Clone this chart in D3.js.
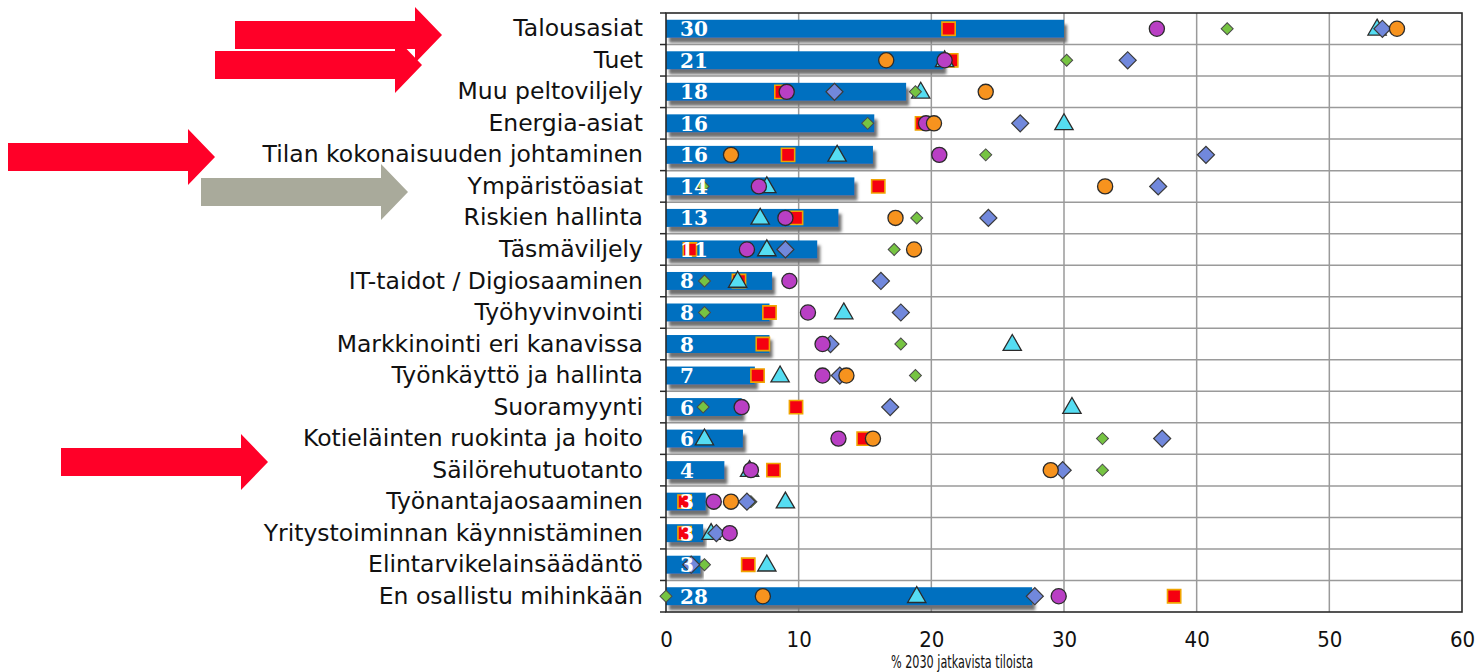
<!DOCTYPE html>
<html>
<head>
<meta charset="utf-8">
<style>
  body { margin: 0; background: #fff; }
  svg { display: block; }
</style>
</head>
<body>
<svg width="1482" height="672"></svg>

<script src="https://cdn.jsdelivr.net/npm/d3@7/dist/d3.min.js"></script>
<script>

// kategoriat ylhäältä alas
var categories = [
  "Talousasiat", "Tuet", "Muu peltoviljely", "Energia-asiat",
  "Tilan kokonaisuuden johtaminen", "Ympäristöasiat", "Riskien hallinta",
  "Täsmäviljely", "IT-taidot / Digiosaaminen", "Työhyvinvointi",
  "Markkinointi eri kanavissa", "Työnkäyttö ja hallinta", "Suoramyynti",
  "Kotieläinten ruokinta ja hoito", "Säilörehutuotanto", "Työnantajaosaaminen",
  "Yritystoiminnan käynnistäminen", "Elintarvikelainsäädäntö", "En osallistu mihinkään"
];

// palkit: koko aineisto
var barValues = [30, 20.9, 18.1, 15.7, 15.6, 14.2, 13.0, 11.4, 8.0, 7.8, 7.8, 6.7, 5.7, 5.8, 4.4, 3.0, 2.8, 2.6, 27.6];

// ryhmät (null = ei näy kuvassa)
var squareVals   = [21.3, 21.5, 8.7, 19.3, 9.2, 16.0, 9.8, 1.8, 5.5, 7.8, 7.3, 6.9, 9.8, 14.9, 8.1, 1.4, 1.4, 6.2, 38.3];
var triangleVals = [53.6, 21.0, 19.2, 30.0, 12.9, 7.6, 7.1, 7.6, 5.4, 13.4, 26.1, 8.6, 30.6, 2.9, 6.3, 9.0, 3.4, 7.6, 18.9];
var greenVals    = [42.3, 30.2, 18.8, 15.2, 24.1, 2.8, 18.9, 17.2, 2.9, 2.9, 17.7, 18.8, 2.8, 32.9, 32.9, 6.4, null, 2.9, 0.0];
var blueVals     = [54.0, 34.8, 12.7, 26.7, 40.7, 37.1, 24.3, 9.0, 16.2, 17.7, 12.4, 13.1, 16.9, 37.4, 29.9, 6.1, 3.8, 1.9, 27.8];
var magentaVals  = [37.0, 21.0, 9.1, 19.6, 20.6, 7.0, 9.0, 6.1, 9.3, 10.7, 11.8, 11.8, 5.7, 13.0, 6.4, 3.6, 4.8, null, 29.6];
var orangeVals   = [55.1, 16.6, 24.1, 20.2, 4.9, 33.1, 17.3, 18.7, null, null, null, 13.6, null, 15.6, 29.0, 4.9, null, null, 7.3];

var xTicks = [0, 10, 20, 30, 40, 50, 60];
var xTitle = "% 2030 jatkavista tiloista";

// nuolet vasemmalla
var arrows = [
  { tipX: 442, tipY: 35, color: "#ff0028" },
  { tipX: 422, tipY: 65, color: "#ff0028" },
  { tipX: 215, tipY: 157, color: "#ff0028" },
  { tipX: 408, tipY: 192, color: "#a9aa9b" },
  { tipX: 268, tipY: 462, color: "#ff0028" }
];

var svg = d3.select("svg");
var pLeft = 666, pRight = 1462, pTop = 13, pBottom = 612;

var x = d3.scaleLinear().domain([0, 60]).range([pLeft, pRight]);
var y = d3.scaleBand().domain(categories).range([pTop, pBottom]).padding(0);

var defs = svg.append("defs");
var f = defs.append("filter").attr("id", "shadow")
  .attr("x", "-5%").attr("y", "-50%").attr("width", "115%").attr("height", "220%");
f.append("feDropShadow")
  .attr("dx", 3).attr("dy", 5).attr("stdDeviation", 1.5)
  .attr("flood-color", "#6f6f6f").attr("flood-opacity", 1);

// arrows
arrows.forEach(function(a) {
  var len = 207, bodyH = 14, headH = 28, headL = 27;
  var s = a.tipX - len, b = a.tipX - headL, c = a.tipY;
  svg.append("path")
    .attr("d", "M" + s + "," + (c - bodyH) + "L" + b + "," + (c - bodyH) +
      "L" + b + "," + (c - headH) + "L" + a.tipX + "," + c +
      "L" + b + "," + (c + headH) + "L" + b + "," + (c + bodyH) +
      "L" + s + "," + (c + bodyH) + "Z")
    .attr("fill", a.color);
});

// grid
svg.append("g")
  .selectAll("line")
  .data(d3.range(1, categories.length))
  .enter().append("line")
    .attr("x1", pLeft).attr("x2", pRight)
    .attr("y1", d => pTop + d * y.step()).attr("y2", d => pTop + d * y.step())
    .attr("stroke", "#9a9a9a").attr("stroke-width", 1.5);

svg.append("g")
  .selectAll("line")
  .data(xTicks.slice(1, -1))
  .enter().append("line")
    .attr("x1", d => x(d)).attr("x2", d => x(d))
    .attr("y1", pTop).attr("y2", pBottom)
    .attr("stroke", "#9a9a9a").attr("stroke-width", 1.5);

var cy = i => y(categories[i]) + y.bandwidth() / 2;

// bars
svg.append("g")
  .selectAll("rect")
  .data(barValues)
  .enter().append("rect")
    .attr("x", x(0))
    .attr("y", (d, i) => cy(i) - 9)
    .attr("width", d => x(d) - x(0))
    .attr("height", 18)
    .attr("fill", "#0070c0")
    .attr("filter", "url(#shadow)");

// frame
svg.append("rect")
  .attr("x", pLeft).attr("y", pTop)
  .attr("width", pRight - pLeft).attr("height", pBottom - pTop)
  .attr("fill", "none").attr("stroke", "#2a2a2a").attr("stroke-width", 1.6);

// left ticks at row borders
svg.append("g")
  .selectAll("line")
  .data(d3.range(0, categories.length + 1))
  .enter().append("line")
    .attr("x1", pLeft - 6).attr("x2", pLeft)
    .attr("y1", d => pTop + d * y.step()).attr("y2", d => pTop + d * y.step())
    .attr("stroke", "#2a2a2a").attr("stroke-width", 1.5);

// markers
var series = [
  { vals: squareVals, sym: d3.symbolSquare, size: 175, rot: 0, fill: "#f50010", stroke: "#f0a400", sw: 1.6 },
  { vals: triangleVals, sym: d3.symbolTriangle, size: 145, rot: 0, fill: "#55ddf2", stroke: "#2b2b2b", sw: 1.3 },
  { vals: greenVals, sym: d3.symbolSquare, size: 72, rot: 45, fill: "#76c442", stroke: "#4a4a4a", sw: 1 },
  { vals: blueVals, sym: d3.symbolSquare, size: 145, rot: 45, fill: "#7188dc", stroke: "#3a3a3a", sw: 1.2 },
  { vals: magentaVals, sym: d3.symbolCircle, size: 180, rot: 0, fill: "#b93fc4", stroke: "#2b2b2b", sw: 1.3 },
  { vals: orangeVals, sym: d3.symbolCircle, size: 180, rot: 0, fill: "#f7931e", stroke: "#2b2b2b", sw: 1.3 }
];

series.forEach(function(s) {
  svg.append("g")
    .selectAll("path")
    .data(s.vals.map((v, i) => ({ v: v, i: i })).filter(d => d.v != null))
    .enter().append("path")
      .attr("d", d3.symbol().type(s.sym).size(s.size))
      .attr("transform", d => "translate(" + x(d.v) + "," + (cy(d.i) + (s.sym === d3.symbolTriangle ? 1 : 0)) + ") rotate(" + s.rot + ")")
      .attr("fill", s.fill)
      .attr("stroke", s.stroke)
      .attr("stroke-width", s.sw);
});

// bar labels
svg.append("g")
  .selectAll("text")
  .data(barValues)
  .enter().append("text")
    .attr("x", x(0) + 14)
    .attr("y", (d, i) => cy(i) + 7.5)
    .attr("fill", "#fff")
    .style("font-family", "'DejaVu Serif', serif")
    .style("font-weight", "bold")
    .style("font-size", "20px")
    .text(d => Math.round(d));

// y labels
var yAxis = d3.axisLeft(y).tickSize(0).tickPadding(23);
svg.append("g")
  .attr("transform", "translate(" + pLeft + ",0)")
  .call(yAxis)
  .call(g => g.select(".domain").remove())
  .selectAll("text")
    .attr("fill", "#111")
    .style("font-family", "'DejaVu Sans', Verdana, sans-serif")
    .style("font-size", "23.5px");

// x labels
var xAxis = d3.axisBottom(x).tickValues(xTicks).tickSize(0).tickPadding(19);
svg.append("g")
  .attr("transform", "translate(0," + pBottom + ")")
  .call(xAxis)
  .call(g => g.select(".domain").remove())
  .selectAll("text")
    .attr("fill", "#111")
    .style("font-family", "'DejaVu Sans Condensed', 'DejaVu Sans', sans-serif")
    .style("font-size", "22px");

svg.append("text")
  .attr("x", 891)
  .attr("y", 668)
  .attr("fill", "#111")
  .attr("textLength", 142)
  .attr("lengthAdjust", "spacingAndGlyphs")
  .style("font-family", "'DejaVu Sans Condensed', 'DejaVu Sans', sans-serif")
  .style("font-size", "17px")
  .text(xTitle);

</script>
</body>
</html>
